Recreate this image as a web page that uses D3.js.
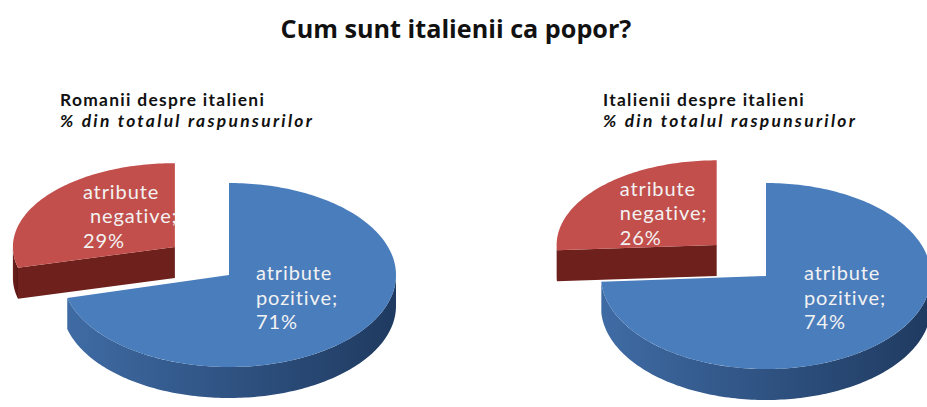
<!DOCTYPE html>
<html>
<head>
<meta charset="utf-8">
<script src="https://cdn.jsdelivr.net/npm/d3@7"></script>
<style>
  body { margin: 0; background: #fff; }
  svg { display: block; }
</style>
</head>
<body>
<svg id="chart" width="927" height="407"></svg>
<script>
// ---- data ----
const chartTitle = "Cum sunt italienii ca popor?";
const categories = ["atribute pozitive", "atribute negative"];
const panelTitles = ["Romanii despre italieni", "Italienii despre italieni"];
const panelSubtitle = "% din totalul raspunsurilor";
const romaniValues = [71, 29];
const italieniValues = [74, 26];

// ---- layout / style ----
const W = 927, H = 407;
const topColors = ["#4a7dbc", "#c24f4b"];
const sideColors = [["#3f6ba4", "#1f3a60"], ["#6e201d", "#5a1714"]];
const panels = [
  { values: romaniValues, title: panelTitles[0], cx: 229, cy: 275, rx: 167, ry: 92, tx: 60,
    blueLbl: [27, -3], redLbl: [-92, -56], redIndent: 7 },
  { values: italieniValues, title: panelTitles[1], cx: 766, cy: 276, rx: 165, ry: 93, tx: 603,
    blueLbl: [38, -4], redLbl: [-97, -57], redIndent: 0 }
];
const depth = 31;
const explode = 0.41;        // fraction of radius the negative slice is pulled out
const explodeTilt = 0.67;    // vertical foreshortening of the pull-out direction
const backScale = [0.97, 0.91]; // pulled-out slice sits further back
const titleFont = "'Open Sans', 'Noto Sans', sans-serif";
const textFont = "Lato, 'Open Sans', sans-serif";

const svg = d3.select("#chart");
svg.append("rect").attr("width", W).attr("height", H).attr("fill", "#fff");

const defs = svg.append("defs");
sideColors.forEach((c, i) => {
  const g = defs.append("linearGradient").attr("id", "side" + i)
    .attr("x1", "0%").attr("x2", "100%").attr("y1", "0%").attr("y2", "0%");
  g.append("stop").attr("offset", "0%").attr("stop-color", c[0]);
  g.append("stop").attr("offset", "100%").attr("stop-color", c[1]);
});

svg.append("text")
  .attr("x", 456).attr("y", 38)
  .attr("text-anchor", "middle")
  .attr("font-family", titleFont).attr("font-weight", 700).attr("font-size", 25.2)
  .attr("fill", "#111")
  .text(chartTitle);

const pie = d3.pie().sort(null).value(d => d);

panels.forEach((p) => {
  const g = svg.append("g");

  // panel heading: name and unit on two lines
  const head = g.append("text")
    .attr("font-family", textFont).attr("font-weight", 700).attr("font-size", 17.4)
    .attr("fill", "#111");
  head.append("tspan").attr("x", p.tx).attr("y", 106)
    .attr("letter-spacing", 1.3).text(p.title);
  head.append("tspan").attr("x", p.tx).attr("y", 127)
    .attr("font-style", "italic").attr("letter-spacing", 2.3).text(panelSubtitle);

  const arcs = pie(p.values);

  // geometry of each slice after pulling out the negative one
  const geo = arcs.map((a, i) => {
    let ox = p.cx, oy = p.cy, rx = p.rx, ry = p.ry;
    if (i === 1) {
      const m = (a.startAngle + a.endAngle) / 2;
      ox += explode * p.rx * Math.sin(m);
      oy -= explode * p.rx * explodeTilt * Math.cos(m);
      rx *= backScale[0];
      ry *= backScale[1];
    }
    const pt = (ang, z = 0) => [ox + rx * Math.sin(ang), oy - ry * Math.cos(ang) + z];
    return { a, i, ox, oy, pt };
  });

  const arcPts = (pt, a0, a1, z) => {
    const n = Math.max(2, Math.ceil((a1 - a0) / 0.02));
    return d3.range(n + 1).map(k => pt(a0 + (a1 - a0) * k / n, z));
  };

  // back slice first, then the large front slice
  [geo[1], geo[0]].forEach(s => {
    const { a, i, ox, oy, pt } = s;
    const a0 = a.startAngle, a1 = a.endAngle;
    // outer wall facing the viewer
    const s0 = Math.max(a0, Math.PI / 2), s1 = Math.min(a1, 3 * Math.PI / 2);
    if (s1 > s0) {
      const top = arcPts(pt, s0, s1, 0);
      const bot = arcPts(pt, s0, s1, depth).reverse();
      g.append("path").attr("d", d3.line()(top.concat(bot)) + "Z")
        .attr("fill", `url(#side${i})`);
    }
    // cut faces along the radii
    const cut = (ang) => {
      const q = [[ox, oy], pt(ang, 0), pt(ang, depth), [ox, oy + depth]];
      g.append("path").attr("d", d3.line()(q) + "Z").attr("fill", sideColors[i][0]);
    };
    if (Math.sin(a0) < -1e-6) cut(a0);
    if (Math.sin(a1) > 1e-6) cut(a1);
    // top face
    const topPts = [[ox, oy]].concat(arcPts(pt, a0, a1, 0));
    g.append("path").attr("d", d3.line()(topPts) + "Z").attr("fill", topColors[i]);
  });

  // data labels
  const labelAt = (x, y, i, indent) => {
    const words = categories[i].split(" ");
    const lines = [words[0], words[1] + ";", p.values[i] + "%"];
    const t = g.append("text")
      .attr("font-family", textFont).attr("font-size", 20)
      .attr("letter-spacing", 0.9)
      .attr("fill", "#f2f2f2").attr("dominant-baseline", "central");
    lines.forEach((l, k) => {
      t.append("tspan").attr("x", x + (k === 1 ? indent : 0)).attr("y", y + k * 24.5).text(l);
    });
  };
  labelAt(geo[0].ox + p.blueLbl[0], geo[0].oy + p.blueLbl[1], 0, 0);
  labelAt(geo[1].ox + p.redLbl[0], geo[1].oy + p.redLbl[1], 1, p.redIndent);
});
</script>
</body>
</html>
